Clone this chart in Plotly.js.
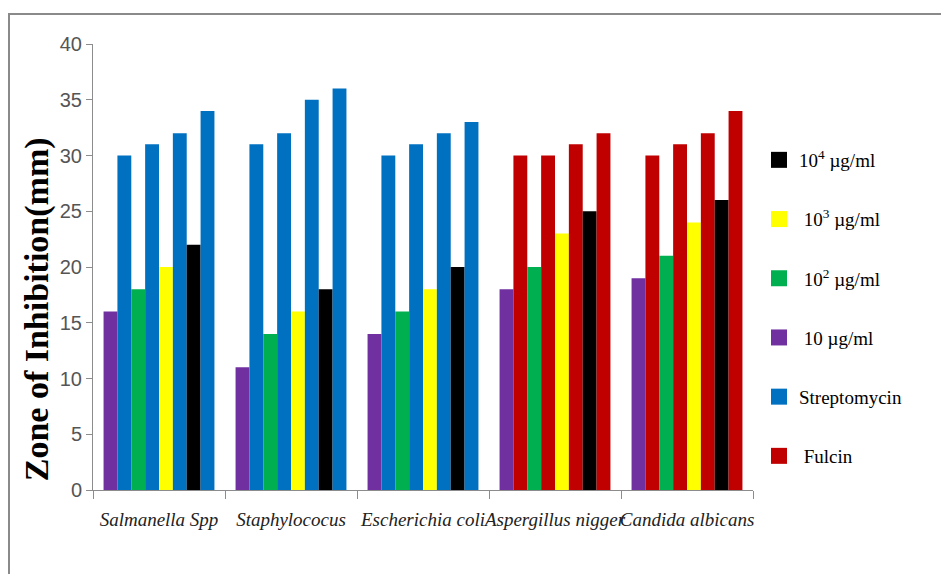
<!DOCTYPE html>
<html>
<head>
<meta charset="utf-8">
<script src="https://cdn.plot.ly/plotly-3.0.1.min.js"></script>
<style>
  html, body { margin: 0; padding: 0; background: #ffffff; }
  #wrap { position: relative; width: 941px; height: 574px; }
  #chart { position: absolute; left: 0; top: 0; width: 941px; height: 574px; }
  #frame {
    position: absolute; left: 8px; top: 13px; right: -4px; bottom: -4px;
    border-top: 2px solid #8a8a8a; border-left: 2px solid #8a8a8a;
    pointer-events: none;
  }
</style>
</head>
<body>
<div id="wrap">
  <div id="chart"></div>
  <div id="frame"></div>
</div>
<script>
// Test organisms (x categories)
const organisms = ['Salmanella Spp', 'Staphylococus', 'Escherichia coli', 'Aspergillus nigger', 'Candida albicans'];

// Zone of inhibition (mm) for each extract concentration
const conc10   = [16, 11, 14, 18, 19];
const conc10e2 = [18, 14, 16, 20, 21];
const conc10e3 = [20, 16, 18, 23, 24];
const conc10e4 = [22, 18, 20, 25, 26];

// Standard drug zones, measured next to each concentration
const standard1 = [30, 31, 30, 30, 30];
const standard2 = [31, 32, 31, 30, 31];
const standard3 = [32, 35, 32, 31, 32];
const standard4 = [34, 36, 33, 32, 34];

// Standard drug used for each organism
const standardDrug = ['Streptomycin', 'Streptomycin', 'Streptomycin', 'Fulcin', 'Fulcin'];

const colors = {
  c10: '#7030A0', c10e2: '#00B050', c10e3: '#FFFF00', c10e4: '#000000',
  Streptomycin: '#0070C0', Fulcin: '#C00000'
};
const drugColors = standardDrug.map(d => colors[d]);

function bar(name, y, color) {
  return { type: 'bar', name: name, x: organisms, y: y, showlegend: false,
           marker: { color: color, line: { width: 0 } }, hoverinfo: 'x+y+name' };
}

const bars = [
  bar('10 µg/ml', conc10, colors.c10),
  bar('Standard', standard1, drugColors),
  bar('10<sup>2</sup> µg/ml', conc10e2, colors.c10e2),
  bar('Standard', standard2, drugColors),
  bar('10<sup>3</sup> µg/ml', conc10e3, colors.c10e3),
  bar('Standard', standard3, drugColors),
  bar('10<sup>4</sup> µg/ml', conc10e4, colors.c10e4),
  bar('Standard', standard4, drugColors)
];

// Legend keys (square swatches)
const legendItems = [
  ['10<sup>4</sup> µg/ml', colors.c10e4],
  [' 10<sup>3</sup> µg/ml', colors.c10e3],
  [' 10<sup>2</sup> µg/ml', colors.c10e2],
  [' 10 µg/ml', colors.c10],
  ['Streptomycin', colors.Streptomycin],
  [' Fulcin', colors.Fulcin]
];
const keys = legendItems.map((it, i) => ({
  type: 'scatter', mode: 'markers', x: [null], y: [null], name: it[0],
  legendgroup: 'g' + i, showlegend: true, hoverinfo: 'skip',
  marker: { symbol: 'square', size: 16, color: it[1] }
}));

const axisGray = '#8c8c8c';
const layout = {
  width: 941, height: 574,
  margin: { l: 93, r: 188, t: 44, b: 84 },
  paper_bgcolor: 'rgba(0,0,0,0)',
  plot_bgcolor: 'rgba(0,0,0,0)',
  barmode: 'group', bargap: 0.16, bargroupgap: 0,
  xaxis: {
    type: 'category', showline: true, linecolor: axisGray, linewidth: 1,
    ticks: 'outside', tickson: 'boundaries', ticklen: 8, tickcolor: axisGray,
    showgrid: false, zeroline: false, ticklabelstandoff: 12,
    tickfont: { family: 'Liberation Serif', size: 19, color: '#222', style: 'italic' },
    tickangle: 0
  },
  yaxis: {
    range: [0, 40], tickvals: [0, 5, 10, 15, 20, 25, 30, 35, 40],
    showline: true, linecolor: axisGray, linewidth: 1,
    ticks: 'outside', ticklen: 6, tickcolor: axisGray,
    showgrid: false, zeroline: false,
    tickfont: { family: 'Liberation Sans Narrow, Arial Narrow, sans-serif', size: 20, color: '#555' }
  },
  legend: {
    xref: 'container', yref: 'container', x: 759 / 941, y: 1 - 141 / 574,
    xanchor: 'left', yanchor: 'top', tracegroupgap: 31.5, maxheight: 430,
    font: { family: 'Liberation Serif', size: 19, color: '#000' },
    bgcolor: 'rgba(0,0,0,0)'
  },
  annotations: [{
    text: '<b>Zone of Inhibition(mm)</b>', textangle: -90,
    xref: 'paper', yref: 'paper', x: -0.085, y: 0.405,
    xanchor: 'center', yanchor: 'middle', showarrow: false,
    font: { family: 'Liberation Serif', size: 34, color: '#000' }
  }]
};

Plotly.newPlot('chart', bars.concat(keys), layout, { displayModeBar: false, staticPlot: true });
</script>
</body>
</html>
